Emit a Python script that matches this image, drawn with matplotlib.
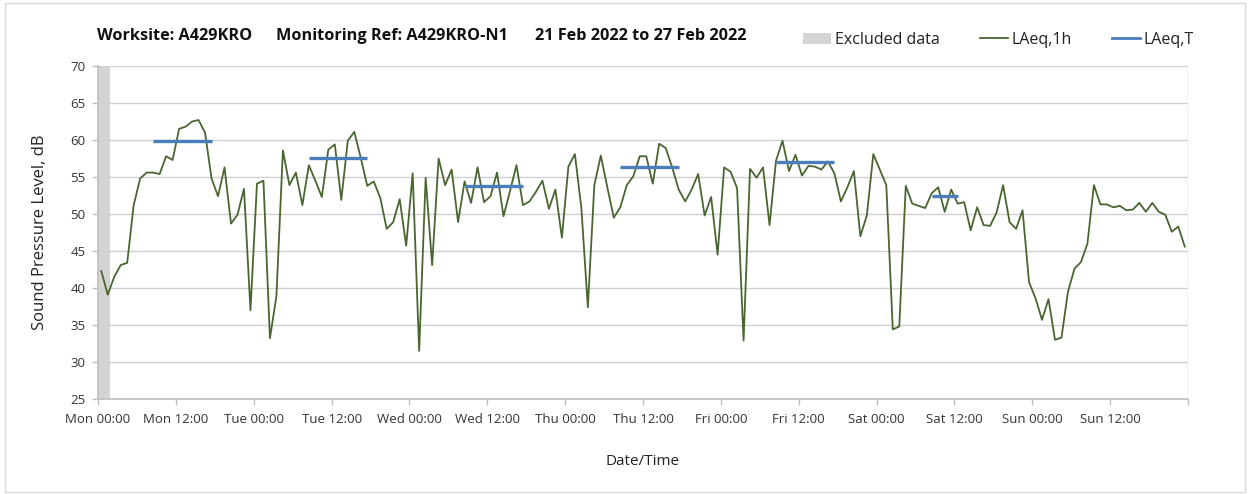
import matplotlib
matplotlib.use("Agg")
import matplotlib.pyplot as plt
from matplotlib.patches import Patch, Rectangle
from matplotlib.lines import Line2D

plt.rcParams['font.family'] = ['Open Sans', 'DejaVu Sans']

# Hourly LAeq,1h values (Mon 00:00 .. Sun 23:00), plotted mid-hour
laeq_1h = [
    42.3, 39.1, 41.5, 43.1, 43.4, 51.2, 54.8, 55.6, 55.6, 55.4, 57.8, 57.3,
    61.5, 61.8, 62.5, 62.7, 61.0, 54.8, 52.4, 56.3, 48.7, 49.9, 53.4, 37.0,
    54.1, 54.5, 33.2, 38.9, 58.6, 53.9, 55.6, 51.2, 56.6, 54.5, 52.3, 58.7,
    59.4, 51.9, 59.9, 61.1, 57.6, 53.8, 54.4, 52.2, 48.0, 48.9, 52.0, 45.7,
    55.5, 31.5, 54.9, 43.1, 57.5, 53.9, 56.0, 48.9, 54.4, 51.5, 56.3, 51.6,
    52.4, 55.6, 49.7, 53.1, 56.6, 51.2, 51.7, 53.0, 54.5, 50.7, 53.3, 46.8,
    56.4, 58.1, 50.8, 37.4, 53.9, 57.9, 53.6, 49.5, 50.9, 53.9, 55.1, 57.8,
    57.8, 54.1, 59.5, 58.9, 56.3, 53.3, 51.7, 53.3, 55.4, 49.8, 52.3, 44.5,
    56.3, 55.7, 53.5, 32.9, 56.1, 54.9, 56.3, 48.5, 57.2, 59.9, 55.8, 58.0,
    55.2, 56.5, 56.4, 56.0, 57.1, 55.5, 51.7, 53.6, 55.8, 47.0, 49.8, 58.1,
    56.0, 53.9, 34.4, 34.8, 53.8, 51.4, 51.1, 50.8, 52.8, 53.6, 50.3, 53.3,
    51.4, 51.6, 47.8, 50.9, 48.5, 48.4, 50.2, 53.9, 48.9, 48.0, 50.5, 40.8,
    38.6, 35.7, 38.5, 33.0, 33.3, 39.5, 42.6, 43.5, 46.0, 53.9, 51.3, 51.3,
    50.9, 51.1, 50.5, 50.6, 51.5, 50.3, 51.5, 50.3, 49.9, 47.6, 48.3, 45.6,
]

# LAeq,T periods (start hour index, end hour index, level)
period_start = [8, 32, 56, 80, 104, 128]
period_end = [17, 41, 65, 89, 113, 132]
period_level = [59.9, 57.5, 53.8, 56.4, 57.0, 52.5]

# Excluded data window (hours from Mon 00:00)
excluded_start = 0.0
excluded_end = 1.9

tick_labels = ["Mon 00:00", "Mon 12:00", "Tue 00:00", "Tue 12:00", "Wed 00:00",
               "Wed 12:00", "Thu 00:00", "Thu 12:00", "Fri 00:00", "Fri 12:00",
               "Sat 00:00", "Sat 12:00", "Sun 00:00", "Sun 12:00", ""]

title_parts = ["Worksite: A429KRO", "Monitoring Ref: A429KRO-N1", "21 Feb 2022 to 27 Feb 2022"]

green = "#4a6630"
blue = "#4a7ebb"
grey_band = "#d4d4d4"
axis_grey = "#bfbfbf"

W, H = 1250, 494
fig = plt.figure(figsize=(12.5, 4.94), dpi=100)
fig.patches.append(Rectangle((0.004, 0.004), 0.992, 0.99, transform=fig.transFigure,
                             fill=False, edgecolor="#d9d9d9", linewidth=1.0))
ax = fig.add_axes([0.0784, 0.1923, 0.8720, 0.6741])

hours = [i + 0.5 for i in range(len(laeq_1h))]
ax.axvspan(excluded_start, excluded_end, color=grey_band, lw=0, zorder=1)
ax.plot(hours, laeq_1h, color=green, lw=1.3, zorder=3)
for s, e, v in zip(period_start, period_end, period_level):
    ax.plot([s + 0.5, e + 0.5], [v, v], color=blue, lw=2.4, zorder=4,
            solid_capstyle='butt')

ax.set_xlim(0, 168)
ax.set_ylim(25, 70)
ax.set_yticks(range(25, 71, 5))
ax.set_xticks(range(0, 169, 12))
ax.set_xticklabels(tick_labels)
ax.set_xticks(range(0, 169, 24), minor=True)
ax.tick_params(axis='x', which='minor', length=0)
ax.grid(axis='y', which='major', color="#d0d0d0", lw=1.0, zorder=0)
ax.grid(axis='x', which='minor', color="#d9d9d9", lw=1.0, zorder=0)
for sp in ['top', 'right']:
    ax.spines[sp].set_visible(False)
for sp in ['left', 'bottom']:
    ax.spines[sp].set_color(axis_grey)
    ax.spines[sp].set_linewidth(1.2)
ax.tick_params(axis='both', which='major', colors=axis_grey, length=4, width=1,
               labelcolor="#333333", labelsize=9.5)
ax.tick_params(axis='y', pad=5)
ax.tick_params(axis='x', pad=6)
ax.axvline(168, color=axis_grey, lw=1.0, zorder=0)

ax.set_ylabel("Sound Pressure Level, dB", fontsize=12, color="#222222", labelpad=16)
ax.set_xlabel("Date/Time", fontsize=11, color="#222222", labelpad=20)

for xpix, txt in zip([97, 276, 535], title_parts):
    fig.text(xpix / W, 1 - 36 / H, txt, fontsize=11.7, fontweight='bold',
             color="#111111", va='center', ha='left')

handles = [Patch(facecolor=grey_band, edgecolor='none'),
           Line2D([], [], color=green, lw=1.3),
           Line2D([], [], color=blue, lw=2.0)]
labels = ["Excluded data", "LAeq,1h", "LAeq,T"]
fig.legend(handles, labels, loc='center left', bbox_to_anchor=(803 / W, 1 - 40 / H), ncol=3,
           frameon=False, fontsize=11.5, handlelength=1.75, handletextpad=0.25,
           columnspacing=2.5, labelcolor="#222222", borderpad=0, borderaxespad=0)

fig.savefig("out.png", dpi=100)
